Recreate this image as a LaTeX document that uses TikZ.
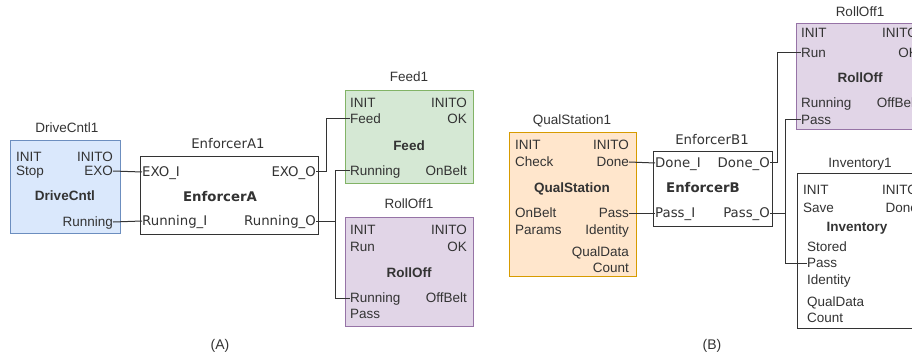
\documentclass[tikz,border=0pt]{standalone}
\usepackage{fontspec}
\setmainfont{Liberation Sans}
\newfontfamily\enffont{DejaVu Sans}
\definecolor{txt}{HTML}{333333}
\definecolor{wirec}{HTML}{333333}
\definecolor{bluef}{HTML}{DAE8FC}\definecolor{blued}{HTML}{6C8EBF}
\definecolor{greenf}{HTML}{D5E8D4}\definecolor{greend}{HTML}{82B366}
\definecolor{purpf}{HTML}{E1D5E7}\definecolor{purpd}{HTML}{9673A6}
\definecolor{orangef}{HTML}{FFE6CC}\definecolor{oranged}{HTML}{D79B00}
\begin{document}
\begin{tikzpicture}[x=1pt,y=-1pt,
  lbl/.style={inner sep=0pt, font=\fontsize{13.5}{15}\selectfont, text=txt, text height=9.6pt, text depth=0pt},
  L/.style={lbl, anchor=west}, R/.style={lbl, anchor=east},
  B/.style={lbl, font=\fontsize{13.5}{15}\selectfont\bfseries},
  ttl/.style={lbl},
  elbl/.style={inner sep=0pt, font=\enffont\fontsize{13.3}{15}\selectfont, text=txt, text height=9.7pt, text depth=0pt},
  EL/.style={elbl, anchor=west}, ER/.style={elbl, anchor=east},
  EB/.style={elbl, font=\enffont\fontsize{13.3}{15}\selectfont\bfseries},
  fb/.style={anchor=north west, inner sep=0pt, line width=0.9pt},
  fbblue/.style={fb, fill=bluef, draw=blued},
  fbgreen/.style={fb, fill=greenf, draw=greend},
  fbpurp/.style={fb, fill=purpf, draw=purpd},
  fborange/.style={fb, fill=orangef, draw=oranged},
  fbwhite/.style={fb, fill=white, draw=wirec},
  wire/.style={draw=wirec, line width=1pt}
]
\useasboundingbox (0,0) rectangle (912,358);
\clip (0,0) rectangle (912,358);

% ---------------- (A) ----------------
% DriveCntl1
\node[fbblue, minimum width=110, minimum height=93] (drive) at (10,140) {};
\node[ttl] (driveT) at (67,128) {DriveCntl1};
\node[L] (dInit) at (16,157) {INIT};
\node[R] (dInito) at (113,157) {INITO};
\node[L] (dStop) at (16,171) {Stop};
\node[R] (dExo) at (113,171) {EXO};
\node[B] (dName) at (65,196) {DriveCntl};
\node[R] (dRun) at (113,222) {Running};

% EnforcerA1
\node[fbwhite, minimum width=178, minimum height=78] (enfA) at (140,156) {};
\node[elbl] (enfAT) at (228,144) {EnforcerA1};
\node[EL] (aExoI) at (142,172) {EXO\_I};
\node[ER] (aExoO) at (316,172) {EXO\_O};
\node[EB] (aName) at (220,197) {EnforcerA};
\node[EL] (aRunI) at (142,221) {Running\_I};
\node[ER] (aRunO) at (316,221) {Running\_O};

% Feed1
\node[fbgreen, minimum width=128, minimum height=93] (feed) at (345,90) {};
\node[ttl] (feedT) at (409,77) {Feed1};
\node[L] (fInit) at (350,103) {INIT};
\node[R] (fInito) at (467,103) {INITO};
\node[L] (fFeed) at (350,119) {Feed};
\node[R] (fOk) at (467,119) {OK};
\node[B] (fName) at (409,146) {Feed};
\node[L] (fRun) at (350,171) {Running};
\node[R] (fOnBelt) at (467,171) {OnBelt};

% RollOff1 (A)
\node[fbpurp, minimum width=128, minimum height=109] (rollA) at (345,217) {};
\node[ttl] (rollAT) at (409,204) {RollOff1};
\node[L] (rInit) at (350,230) {INIT};
\node[R] (rInito) at (467,230) {INITO};
\node[L] (rRun) at (350,247) {Run};
\node[R] (rOk) at (467,247) {OK};
\node[B] (rName) at (409,273) {RollOff};
\node[L] (rRunning) at (350,298) {Running};
\node[R] (rOffBelt) at (467,298) {OffBelt};
\node[L] (rPass) at (350,314) {Pass};

% wires (A)
\draw[wire] (dExo.east) -- (aExoI.west);
\draw[wire] (dRun.east) -- (aRunI.west);
\draw[wire] (aExoO.east) -- ++(10,0) |- (fFeed.west);
\draw[wire] (aRunO.east) -- ++(19,0) coordinate (jA) |- (fRun.west);
\draw[wire] (jA) |- (rRunning.west);

\node[lbl, font=\fontsize{14}{16}\selectfont] (labA) at (220,345) {(A)};

% ---------------- (B) ----------------
% QualStation1
\node[fborange, minimum width=127, minimum height=144] (qual) at (509,132) {};
\node[ttl] (qualT) at (572,120) {QualStation1};
\node[L] (qInit) at (515,145) {INIT};
\node[R] (qInito) at (629,145) {INITO};
\node[L] (qCheck) at (515,162) {Check};
\node[R] (qDone) at (629,162) {Done};
\node[B] (qName) at (572,188) {QualStation};
\node[L] (qOnBelt) at (515,213) {OnBelt};
\node[R] (qPass) at (629,213) {Pass};
\node[L] (qParams) at (515,230) {Params};
\node[R] (qIdentity) at (629,230) {Identity};
\node[R] (qQualData) at (629,252) {QualData};
\node[R] (qCount) at (629,268) {Count};

% EnforcerB1
\node[fbwhite, minimum width=119, minimum height=75] (enfB) at (653,151) {};
\node[elbl] (enfBT) at (712,140) {EnforcerB1};
\node[EL] (bDoneI) at (655,163) {Done\_I};
\node[ER] (bDoneO) at (770,163) {Done\_O};
\node[EB] (bName) at (703,188) {EnforcerB};
\node[EL] (bPassI) at (655,213) {Pass\_I};
\node[ER] (bPassO) at (770,213) {Pass\_O};

% RollOff1 (B)
\node[fbpurp, minimum width=128, minimum height=106] (rollB) at (796,23) {};
\node[ttl] (rollBT) at (860,12) {RollOff1};
\node[L] (sInit) at (801,33) {INIT};
\node[R] (sInito) at (918,33) {INITO};
\node[L] (sRun) at (801,53) {Run};
\node[R] (sOk) at (918,53) {OK};
\node[B] (sName) at (860,78) {RollOff};
\node[L] (sRunning) at (801,103) {Running};
\node[R] (sOffBelt) at (918,103) {OffBelt};
\node[L] (sPass) at (801,120) {Pass};

% Inventory1
\node[fbwhite, minimum width=127, minimum height=155] (inv) at (797,173) {};
\node[ttl] (invT) at (860,163) {Inventory1};
\node[L] (iInit) at (803,190) {INIT};
\node[R] (iInito) at (918,190) {INITO};
\node[L] (iSave) at (803,208) {Save};
\node[R] (iDone) at (918,208) {Done};
\node[B] (iName) at (857,227) {Inventory};
\node[L] (iStored) at (807,247) {Stored};
\node[L] (iPass) at (807,263) {Pass};
\node[L] (iIdentity) at (807,280) {Identity};
\node[L] (iQualData) at (807,302) {QualData};
\node[L] (iCount) at (807,318) {Count};

% wires (B)
\draw[wire] (qDone.east) -- (bDoneI.west);
\draw[wire] (qPass.east) -- (bPassI.west);
\draw[wire] (bDoneO.east) -- ++(7,0) |- (sRun.west);
\draw[wire] (bPassO.east) -- ++(15,0) coordinate (jB) |- (sPass.west);
\draw[wire] (jB) |- (iPass.west);

\node[lbl, font=\fontsize{14}{16}\selectfont] (labB) at (712,345) {(B)};
\end{tikzpicture}
\end{document}
